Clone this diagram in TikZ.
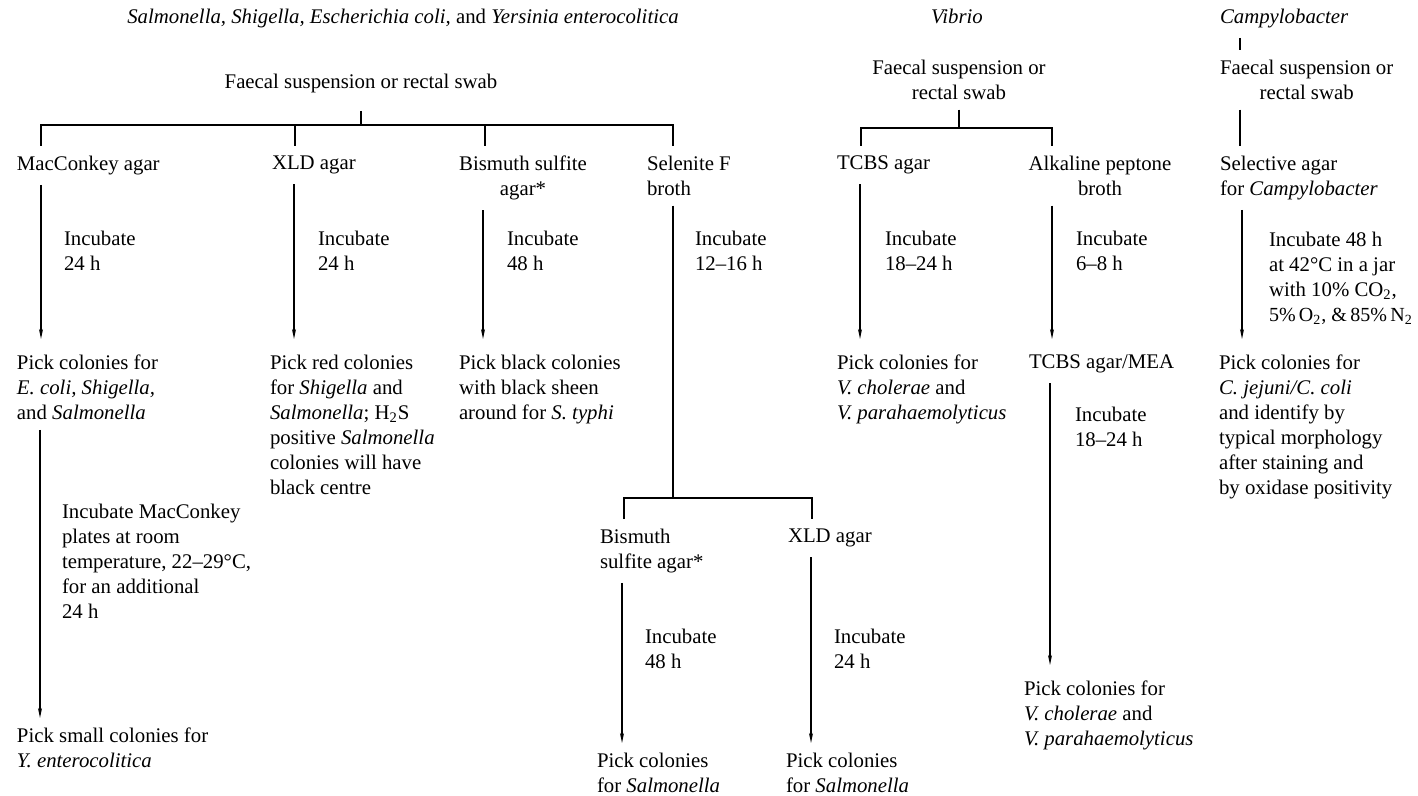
\documentclass[tikz,border=0pt]{standalone}
\usepackage{fontspec}
\setmainfont{Liberation Serif}
\usetikzlibrary{arrows.meta}

\begin{document}
\begin{tikzpicture}[x=0.5pt,y=-0.5pt,line width=0.7pt,
    txt/.style={inner sep=0pt,outer xsep=0pt,outer ysep=5pt,anchor=north west,
      align=left,font=\fontsize{10.4}{12.5}\selectfont},
    ctxt/.style={txt,anchor=north,align=center},
    arr/.style={-{Stealth[length=5pt,width=2pt]},shorten >=3pt}]
  \useasboundingbox (0,0) rectangle (1418,796);

  % headings
  \node[ctxt] (sal) at (403,-1) {\textit{Salmonella, Shigella, Escherichia coli,} and \textit{Yersinia enterocolitica}};
  \node[ctxt] (vib) at (957,-1) {\textit{Vibrio}};
  \node[txt] (cam) at (1220,-1) {\textit{Campylobacter}};

  % specimens
  \node[ctxt] (fs1) at (361,64) {Faecal suspension or rectal swab};
  \node[ctxt] (fs2) at (959,50) {Faecal suspension or\\rectal swab};
  \node[txt,align=center] (fs3) at (1220,50) {Faecal suspension or\\rectal swab};

  % first media
  \node[txt] (mac) at (17,146) {MacConkey agar};
  \node[txt] (xld) at (272,146) {XLD agar};
  \node[ctxt] (bis) at (523,146) {Bismuth sulfite\\agar*};
  \node[txt] (sel) at (647,146) {Selenite F\\broth};
  \node[txt] (tcbs) at (837,146) {TCBS agar};
  \node[ctxt] (apb) at (1100,146) {Alkaline peptone\\broth};
  \node[txt] (sag) at (1220,146) {Selective agar\\for \textit{Campylobacter}};

  % incubation
  \node[txt] (inc1) at (64,221) {Incubate\\24 h};
  \node[txt] (inc2) at (318,221) {Incubate\\24 h};
  \node[txt] (inc3) at (507,221) {Incubate\\48 h};
  \node[txt] (inc4) at (695,221) {Incubate\\12--16 h};
  \node[txt] (inc5) at (885,221) {Incubate\\18--24 h};
  \node[txt] (inc6) at (1076,221) {Incubate\\6--8 h};
  \node[txt] (inc7) at (1269,222) {Incubate 48 h\\at 42°C in a jar\\with 10\% CO\textsubscript{2},\\{\fontsize{10}{12.5}\selectfont 5\%\,O\textsubscript{2}, \&\,85\%\,N\textsubscript{2}}};

  % results
  \node[txt] (pk1) at (17,345) {Pick colonies for\\\textit{E. coli, Shigella,}\\and \textit{Salmonella}};
  \node[txt] (pk2) at (270,345) {Pick red colonies\\for \textit{Shigella} and\\\textit{Salmonella}; H\textsubscript{2}S\\positive \textit{Salmonella}\\colonies will have\\black centre};
  \node[txt] (pk3) at (459,345) {Pick black colonies\\with black sheen\\around for \textit{S. typhi}};
  \node[txt] (pk4) at (837,345) {Pick colonies for\\\textit{V. cholerae} and\\\textit{V. parahaemolyticus}};
  \node[txt] (tma) at (1029,345) {TCBS agar/MEA};
  \node[txt] (pk5) at (1219,345) {Pick colonies for\\\textit{C. jejuni/C. coli}\\and identify by\\typical morphology\\after staining and\\by oxidase positivity};

  \node[txt] (inc8) at (62,494) {Incubate MacConkey\\plates at room\\temperature, 22--29°C,\\for an additional\\24 h};
  \node[txt] (pk6) at (17,718) {Pick small colonies for\\\textit{Y. enterocolitica}};

  \node[txt] (inc11) at (1075,397) {Incubate\\18--24 h};
  \node[txt] (pk9) at (1024,671) {Pick colonies for\\\textit{V. cholerae} and\\\textit{V. parahaemolyticus}};

  \node[txt] (bis2) at (600,519) {Bismuth\\sulfite agar*};
  \node[txt] (xld2) at (788,519) {XLD agar};
  \node[txt] (inc9) at (645,619) {Incubate\\48 h};
  \node[txt] (inc10) at (834,619) {Incubate\\24 h};
  \node[txt] (pk7) at (597,743) {Pick colonies\\for \textit{Salmonella}};
  \node[txt] (pk8) at (786,743) {Pick colonies\\for \textit{Salmonella}};

  % branches
  \draw ([xshift=12pt]mac.north west) -- ++(0,-21) coordinate (bar1) -| ([xshift=13pt]sel.north west);
  \draw ([xshift=11.5pt]xld.north west) -- ([xshift=11.5pt]xld.north west |- bar1);
  \draw ([xshift=-19pt]bis.north) -- ([xshift=-19pt]bis.north |- bar1);
  \draw[shorten <=4pt] (fs1.south) -- (fs1.south |- bar1);

  \draw ([xshift=12pt]tcbs.north west) -- ++(0,-18) coordinate (bar2) -| ([xshift=-24pt]apb.north);
  \draw (fs2.south) -- (fs2.south |- bar2);

  \draw ([xshift=10pt]cam.south west) -- ([xshift=10pt]cam.south west |- fs3.north);
  \draw ([xshift=10pt]fs3.south west) -- ([xshift=10pt]fs3.south west |- sag.north);

  \draw ([xshift=12pt]bis2.north west) -- ++(0,-21) coordinate (bar3) -| ([xshift=12pt]xld2.north west);
  \draw ([xshift=13pt]sel.south west) -- ([xshift=13pt]sel.south west |- bar3);

  % arrows
  \draw[arr] ([xshift=12pt]mac.south west) -- ([xshift=12pt]mac.south west |- pk1.north);
  \draw[arr] ([xshift=11pt]xld.south west) -- ([xshift=11pt]xld.south west |- pk2.north);
  \draw[arr] ([xshift=-20pt]bis.south) -- ([xshift=-20pt]bis.south |- pk3.north);
  \draw[arr] ([xshift=11.5pt]tcbs.south west) -- ([xshift=11.5pt]tcbs.south west |- pk4.north);
  \draw[arr] ([xshift=-24pt]apb.south) -- ([xshift=-24pt]apb.south |- tma.north);
  \draw[arr] ([xshift=11pt]sag.south west) -- ([xshift=11pt]sag.south west |- pk5.north);
  \draw[arr,shorten >=0pt] ([xshift=11.5pt]pk1.south west) -- ([xshift=11.5pt]pk1.south west |- pk6.north);
  \draw[arr] ([xshift=10.5pt]tma.south west) -- ([xshift=10.5pt]tma.south west |- pk9.north);
  \draw[arr,shorten >=0pt] ([xshift=11pt]bis2.south west) -- ([xshift=11pt]bis2.south west |- pk7.north);
  \draw[arr,shorten >=0pt] ([xshift=11.5pt]xld2.south west) -- ([xshift=11.5pt]xld2.south west |- pk8.north);
\end{tikzpicture}
\end{document}
